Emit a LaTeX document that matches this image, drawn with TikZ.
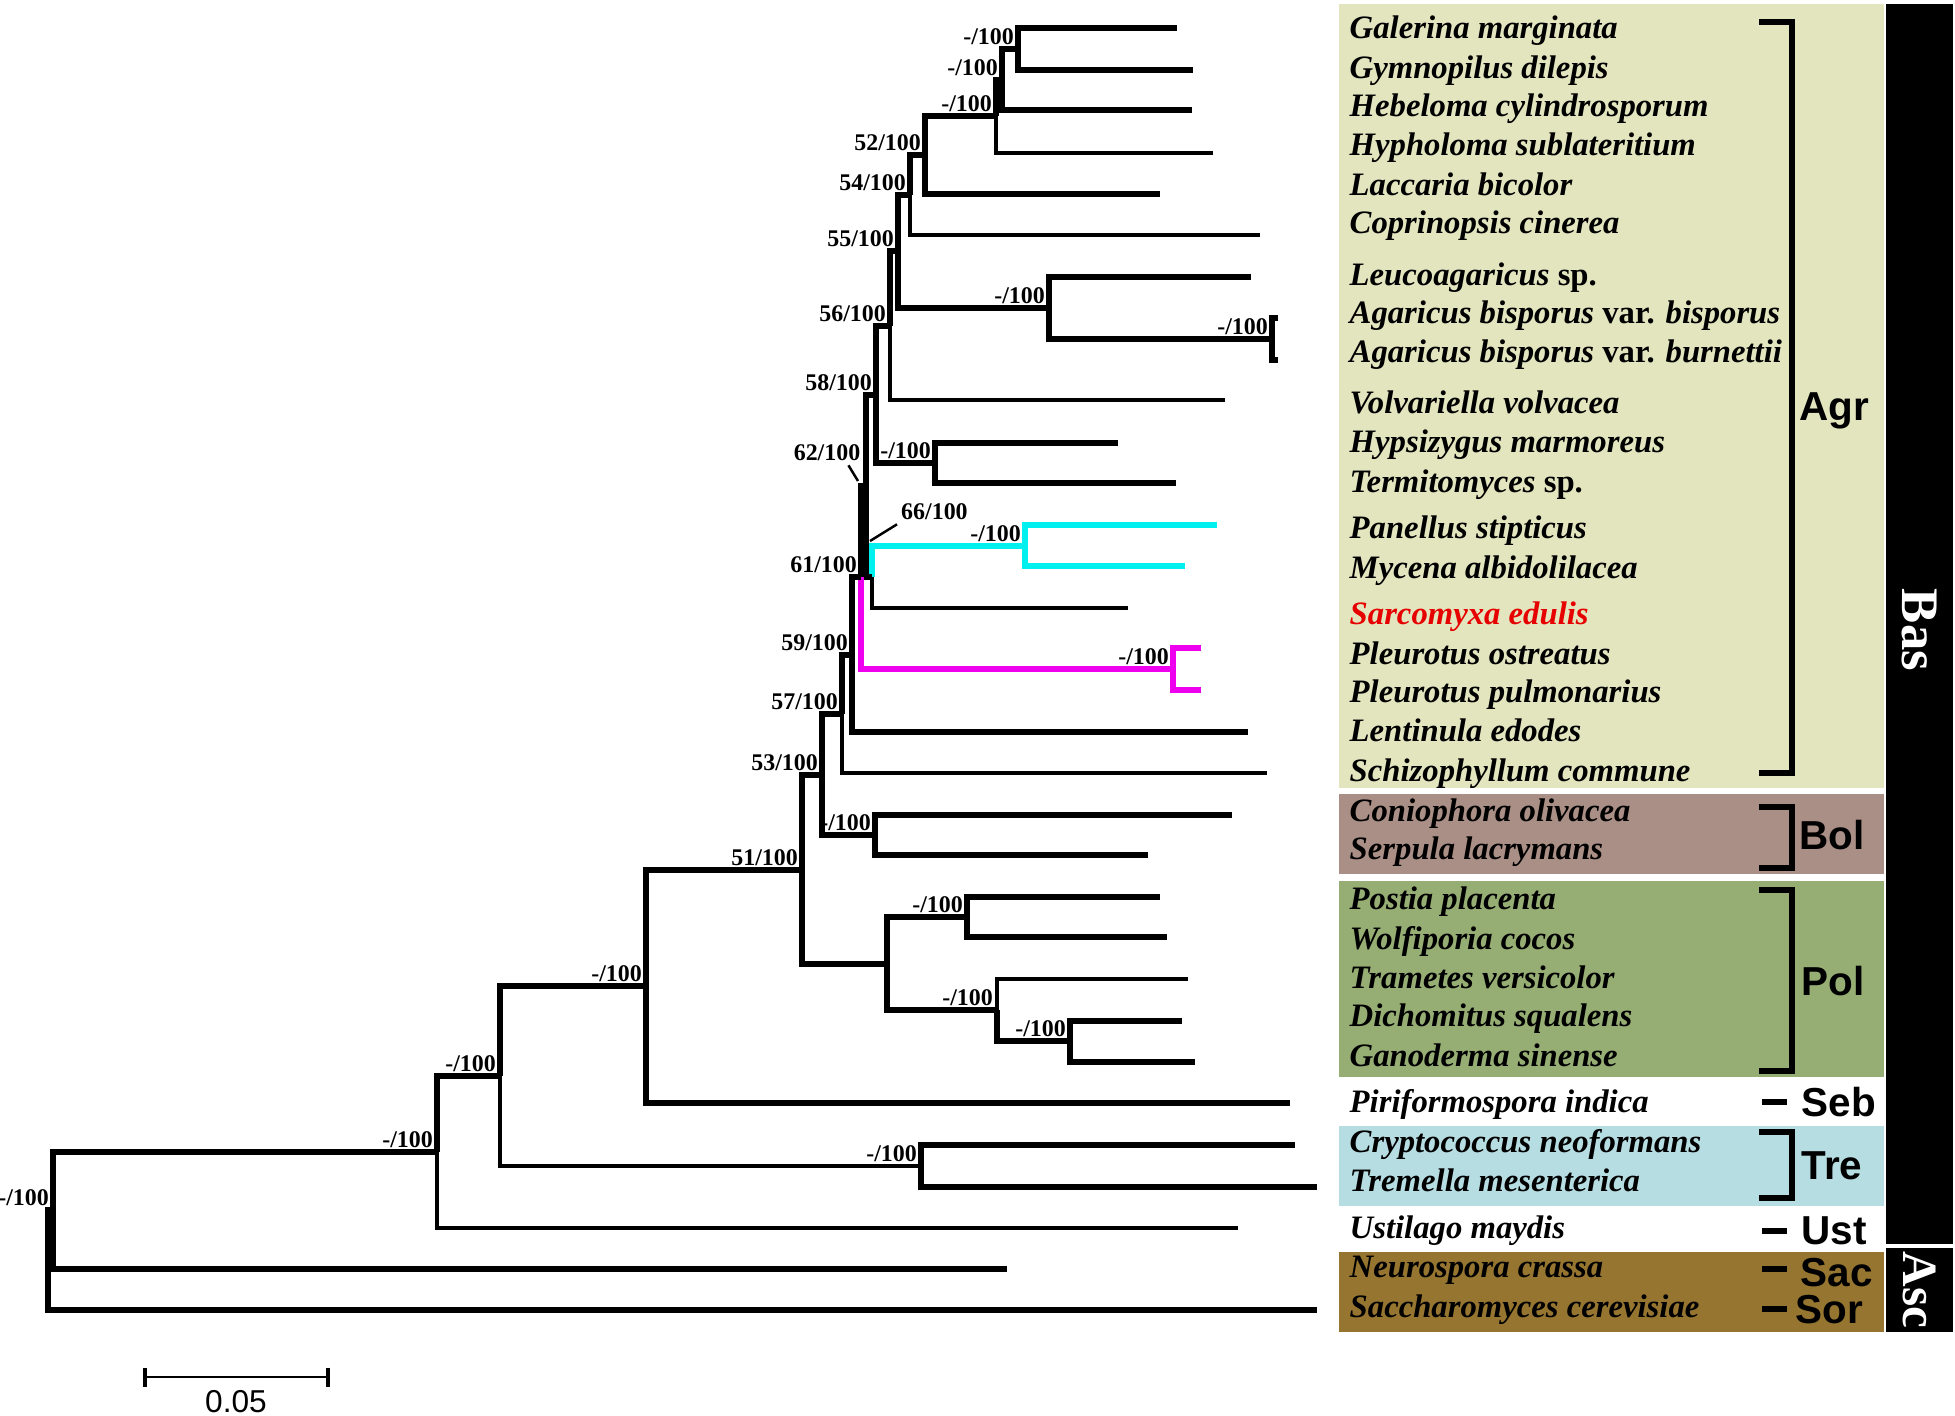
\documentclass[tikz,border=0pt]{standalone}
\usepackage{fontspec}
\setmainfont{Liberation Serif}
\newfontfamily\arialf{Liberation Sans}
\usetikzlibrary{arrows.meta}
\definecolor{agrc}{RGB}{226,229,190}
\definecolor{bolc}{RGB}{170,143,134}
\definecolor{polc}{RGB}{150,174,116}
\definecolor{trec}{RGB}{182,221,226}
\definecolor{ascc}{RGB}{150,117,48}
\definecolor{cyanb}{RGB}{0,240,240}
\definecolor{magb}{RGB}{238,0,238}
\definecolor{redt}{RGB}{230,0,0}
\tikzstyle{br} = [line width=1.6pt]
\tikzstyle{brt} = [line width=1.15pt]
\tikzstyle{bs} = [anchor=south east, inner sep=1pt, font=\fontsize{6.8}{7}\selectfont\bfseries]
\tikzstyle{taxon} = [anchor=base west, inner sep=0pt, font=\fontsize{9.3}{11}\selectfont\bfseries\itshape]
\tikzstyle{grp} = [anchor=west, inner sep=0pt, font=\fontsize{11.5}{13}\selectfont\arialf\bfseries]
\tikzstyle{brk} = [line width=1.6pt]
\tikzstyle{ptr} = [line width=0.7pt]

\begin{document}
\begin{tikzpicture}[x=0.01cm, y=-0.01cm]
\useasboundingbox (0,0) rectangle (1955,1415);

% coloured panels and side bars
\fill[agrc] (1339,4) rectangle (1884,788);
\fill[bolc] (1339,794) rectangle (1884,874);
\fill[polc] (1339,881) rectangle (1884,1077);
\fill[trec] (1339,1126) rectangle (1884,1206);
\fill[ascc] (1339,1252) rectangle (1884,1332);
\fill[black] (1886,4) rectangle (1953,1244);
\fill[black] (1886,1248) rectangle (1953,1332);
\node[white, rotate=-90, font=\fontsize{15}{17}\selectfont\bfseries] (bas) at (1919,630) {Bas};
\node[white, rotate=-90, font=\fontsize{14}{16}\selectfont\bfseries] (asc) at (1919,1290) {Asc};

% leaves
\coordinate (l1) at (1177,28);
\coordinate (l2) at (1193,70);
\coordinate (l3) at (1192,110);
\coordinate (l4) at (1213,153);
\coordinate (l5) at (1160,194);
\coordinate (l6) at (1260,235);
\coordinate (l7) at (1251,277);
\coordinate (l8) at (1278,318);
\coordinate (l9) at (1278,360);
\coordinate (l10) at (1225,400);
\coordinate (l11) at (1118,443);
\coordinate (l12) at (1176,483);
\coordinate (l13) at (1217,525);
\coordinate (l14) at (1185,566);
\coordinate (l15) at (1128,608);
\coordinate (l16) at (1201,648);
\coordinate (l17) at (1201,690);
\coordinate (l18) at (1248,732);
\coordinate (l19) at (1267,773);
\coordinate (l20) at (1232,815);
\coordinate (l21) at (1148,855);
\coordinate (l22) at (1160,897);
\coordinate (l23) at (1167,937);
\coordinate (l24) at (1188,979);
\coordinate (l25) at (1182,1021);
\coordinate (l26) at (1195,1062);
\coordinate (l27) at (1290,1103);
\coordinate (l28) at (1295,1145);
\coordinate (l29) at (1317,1187);
\coordinate (l30) at (1238,1228);
\coordinate (l31) at (1007,1269);
\coordinate (l32) at (1317,1310);

% internal nodes
\coordinate (n1) at (1018,49);
\coordinate (n2) at (1002,80);
\coordinate (n3) at (996,116);
\coordinate (n4) at (925,155);
\coordinate (n5) at (910,195);
\coordinate (n6) at (1272,339);
\coordinate (n7) at (1049,308);
\coordinate (n8) at (898,251);
\coordinate (n9) at (890,326);
\coordinate (n10) at (935,463);
\coordinate (n11) at (876,395);
\coordinate (n12) at (1025,546);
\coordinate (n13) at (872,577);
\coordinate (n14) at (866,486);
\coordinate (n15) at (1173,669);
\coordinate (n16) at (861,577);
\coordinate (n17) at (852,655);
\coordinate (n18) at (842,714);
\coordinate (n19) at (875,835);
\coordinate (n20) at (822,775);
\coordinate (n21) at (967,917);
\coordinate (n22) at (1070,1041);
\coordinate (n23) at (997,1010);
\coordinate (n24) at (887,964);
\coordinate (n25) at (802,870);
\coordinate (n26) at (646,986);
\coordinate (n27) at (921,1166);
\coordinate (n28) at (500,1076);
\coordinate (n29) at (437,1152);
\coordinate (n30) at (53,1210);
\coordinate (n31) at (48,1260);

% branches
\draw[br] (l1) -| (n1) |- (l2);
\draw[br] (n1) -| (n2) |- (l3);
\draw[br] (n2) -| (n3);
\draw[brt] (n3) |- (l4);
\draw[br] (n3) -| (n4) |- (l5);
\draw[br] (n4) -| (n5);
\draw[brt] (n5) |- (l6);
\draw[br] (l8) -| (n6) |- (l9);
\draw[br] (l7) -| (n7) |- (n6);
\draw[br] (n5) -| (n8) |- (n7);
\draw[br] (n8) -| (n9);
\draw[brt] (n9) |- (l10);
\draw[br] (l11) -| (n10) |- (l12);
\draw[br] (n9) -| (n11) |- (n10);
\draw[br, cyanb] (l13) -| (n12) |- (l14);
\draw[br, cyanb] (n12) -| (n13);
\draw[brt] (n13) |- (l15);
\draw[br] (n11) -| (n14) |- (n13);
\draw[br, magb] (l16) -| (n15) |- (l17);
\draw[br] (n14) -| (n16);
\draw[br, magb] (n16) |- (n15);
\draw[br] (n16) -| (n17) |- (l18);
\draw[br] (n17) -| (n18);
\draw[brt] (n18) |- (l19);
\draw[br] (l20) -| (n19) |- (l21);
\draw[br] (n18) -| (n20) |- (n19);
\draw[br] (l22) -| (n21) |- (l23);
\draw[br] (l25) -| (n22) |- (l26);
\draw[brt] (l24) -| (n23);
\draw[br] (n23) |- (n22);
\draw[br] (n21) -| (n24) |- (n23);
\draw[br] (n20) -| (n25) |- (n24);
\draw[br] (n25) -| (n26) |- (l27);
\draw[br] (l28) -| (n27) |- (l29);
\draw[br] (n26) -| (n28);
\draw[brt] (n28) |- (n27);
\draw[br] (n28) -| (n29);
\draw[brt] (n29) |- (l30);
\draw[br] (n29) -| (n30) |- (l31);
\draw[br] (n30) -| (n31) |- (l32);

% support values
\node[bs] (s1) at (n1) {-/100};
\node[bs] (s2) at (n2) {-/100};
\node[bs] (s3) at (n3) {-/100};
\node[bs] (s4) at (n4) {52/100};
\node[bs] (s5) at (n5) {54/100};
\node[bs] (s6) at (n6) {-/100};
\node[bs] (s7) at (n7) {-/100};
\node[bs] (s8) at (n8) {55/100};
\node[bs] (s9) at (n9) {56/100};
\node[bs] (s10) at (n10) {-/100};
\node[bs] (s11) at (n11) {58/100};
\node[bs] (s12) at (n12) {-/100};
\node[bs, anchor=west] (s13) at (897,512) {66/100};
\node[bs, anchor=center] (s14) at (827,453) {62/100};
\node[bs] (s15) at (n15) {-/100};
\node[bs] (s16) at (n16) {61/100};
\node[bs] (s17) at (n17) {59/100};
\node[bs] (s18) at (n18) {57/100};
\node[bs] (s19) at (n19) {-/100};
\node[bs] (s20) at (n20) {53/100};
\node[bs] (s21) at (n21) {-/100};
\node[bs] (s22) at (n22) {-/100};
\node[bs] (s23) at (n23) {-/100};
\node[bs] (s25) at (n25) {51/100};
\node[bs] (s26) at (n26) {-/100};
\node[bs] (s27) at (n27) {-/100};
\node[bs] (s28) at (n28) {-/100};
\node[bs] (s29) at (n29) {-/100};
\node[bs] (s30) at (n30) {-/100};
\coordinate (q13) at (870,541);
\coordinate (q14) at (858,481);
\draw[ptr] (s13.south west) -- (q13);
\draw[ptr] ([xshift=-0.16cm]s14.south east) -- (q14);

% taxa
\node[taxon] (t1) at (1349,38) {Galerina marginata};
\node[taxon] (t2) at (1349,78) {Gymnopilus dilepis};
\node[taxon] (t3) at (1349,116) {Hebeloma cylindrosporum};
\node[taxon] (t4) at (1349,155) {Hypholoma sublateritium};
\node[taxon] (t5) at (1349,195) {Laccaria bicolor};
\node[taxon] (t6) at (1349,233) {Coprinopsis cinerea};
\node[taxon] (t7) at (1349,285) {Leucoagaricus \upshape sp.};
\node[taxon] (t8) at (1349,323) {Agaricus bisporus \upshape var. \itshape bisporus};
\node[taxon] (t9) at (1349,362) {Agaricus bisporus \upshape var. \itshape burnettii};
\node[taxon] (t10) at (1349,413) {Volvariella volvacea};
\node[taxon] (t11) at (1349,452) {Hypsizygus marmoreus};
\node[taxon] (t12) at (1349,492) {Termitomyces \upshape sp.};
\node[taxon] (t13) at (1349,538) {Panellus stipticus};
\node[taxon] (t14) at (1349,578) {Mycena albidolilacea};
\node[taxon, redt] (t15) at (1349,624) {Sarcomyxa edulis};
\node[taxon] (t16) at (1349,664) {Pleurotus ostreatus};
\node[taxon] (t17) at (1349,702) {Pleurotus pulmonarius};
\node[taxon] (t18) at (1349,741) {Lentinula edodes};
\node[taxon] (t19) at (1349,781) {Schizophyllum commune};
\node[taxon] (t20) at (1349,821) {Coniophora olivacea};
\node[taxon] (t21) at (1349,859) {Serpula lacrymans};
\node[taxon] (t22) at (1349,909) {Postia placenta};
\node[taxon] (t23) at (1349,949) {Wolfiporia cocos};
\node[taxon] (t24) at (1349,988) {Trametes versicolor};
\node[taxon] (t25) at (1349,1026) {Dichomitus squalens};
\node[taxon] (t26) at (1349,1066) {Ganoderma sinense};
\node[taxon] (t27) at (1349,1112) {Piriformospora indica};
\node[taxon] (t28) at (1349,1152) {Cryptococcus neoformans};
\node[taxon] (t29) at (1349,1191) {Tremella mesenterica};
\node[taxon] (t30) at (1349,1238) {Ustilago maydis};
\node[taxon] (t31) at (1349,1277) {Neurospora crassa};
\node[taxon] (t32) at (1349,1317) {Saccharomyces cerevisiae};

% group brackets
\draw[brk] (1759,22) -- (1792,22) -- (1792,773) -- (1759,773);
\draw[brk] (1759,807) -- (1792,807) -- (1792,868) -- (1759,868);
\draw[brk] (1759,890) -- (1792,890) -- (1792,1071) -- (1759,1071);
\draw[brk] (1759,1132) -- (1792,1132) -- (1792,1198) -- (1759,1198);
\draw[brk] (1762,1102) -- (1787,1102);
\draw[brk] (1762,1231) -- (1787,1231);
\draw[brk] (1762,1269) -- (1787,1269);
\draw[brk] (1762,1309) -- (1787,1309);
\node[grp] (g1) at (1799,411) {Agr};
\node[grp] (g2) at (1799,835) {Bol};
\node[grp] (g3) at (1801,981) {Pol};
\node[grp] (g4) at (1801,1102) {Seb};
\node[grp] (g5) at (1801,1166) {Tre};
\node[grp] (g6) at (1801,1231) {Ust};
\node[grp] (g7) at (1800,1273) {Sac};
\node[grp] (g8) at (1795,1310) {Sor};

% scale bar
\coordinate (sb1) at (143,1377);
\coordinate (sb2) at (330,1377);
\draw[line width=0.8pt, {Bar[width=0.19cm, line width=1.2pt]}-{Bar[width=0.19cm, line width=1.2pt]}] (sb1) -- (sb2);
\node[font=\fontsize{9}{10}\selectfont\arialf] (sbl) at (236,1402) {0.05};
\end{tikzpicture}
\end{document}
